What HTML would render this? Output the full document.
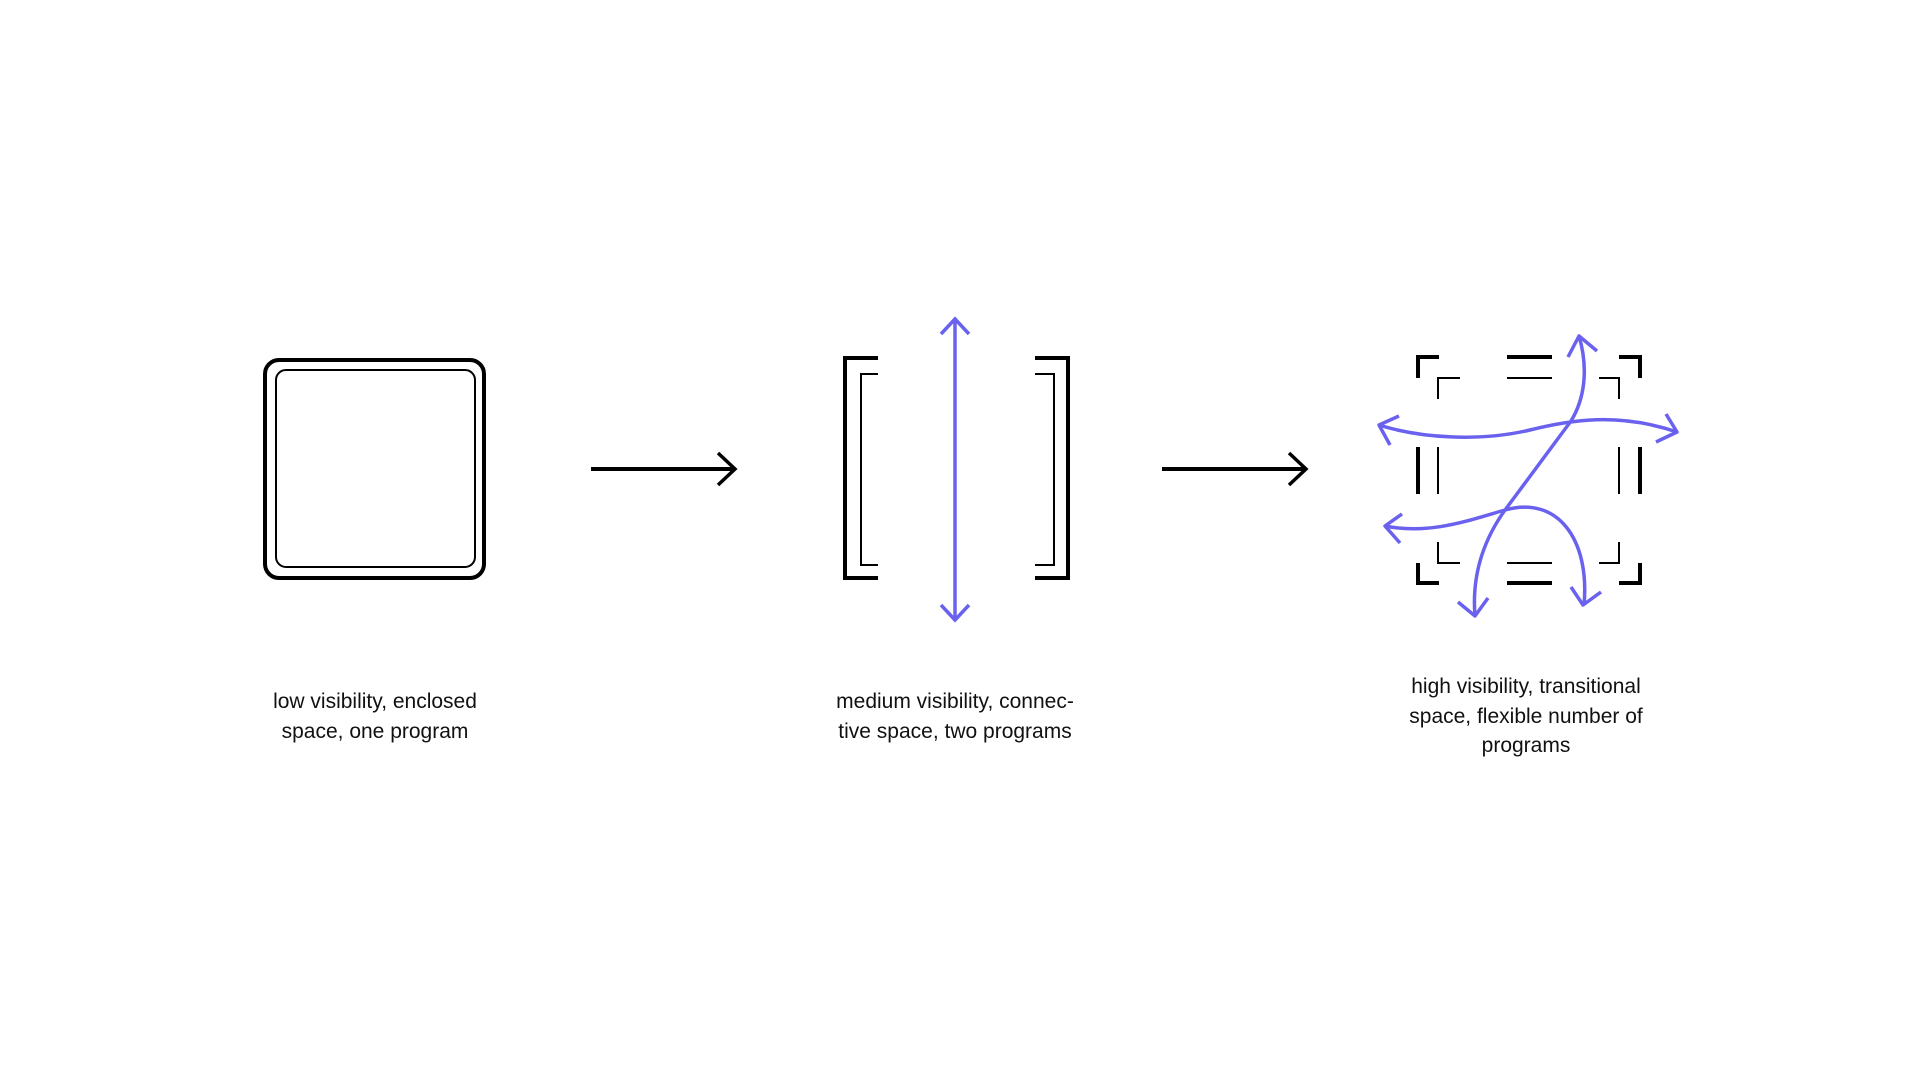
<!DOCTYPE html>
<html><head><meta charset="utf-8"><style>
html,body{margin:0;padding:0;background:#fff;}
.wrap{position:relative;width:1920px;height:1080px;overflow:hidden;}
.lbl{position:absolute;width:360px;text-align:center;font-family:"Liberation Sans",sans-serif;font-size:21px;line-height:29.5px;color:#111;}
</style></head><body><div class="wrap">
<svg width="1920" height="1080" style="position:absolute;left:0;top:0" fill="none" stroke-linecap="butt">
<rect x="265" y="360" width="219" height="218" rx="14" stroke="#000" stroke-width="4"/>
<rect x="276" y="370" width="199" height="197" rx="10" stroke="#000" stroke-width="2"/>
<g stroke="#000" stroke-width="4">
<line x1="591" y1="469" x2="734" y2="469"/><polyline points="718,453 735,469 718,485" stroke-width="3.5"/>
<line x1="1162" y1="469" x2="1305" y2="469"/><polyline points="1289,453 1306,469 1289,485" stroke-width="3.5"/>
</g>
<polyline points="878,358 845,358 845,578 878,578" stroke="#000" stroke-width="4"/>
<polyline points="878,374 861,374 861,565 878,565" stroke="#000" stroke-width="2"/>
<polyline points="1035,358 1068,358 1068,578 1035,578" stroke="#000" stroke-width="4"/>
<polyline points="1035,374 1054,374 1054,565 1035,565" stroke="#000" stroke-width="2"/>
<g stroke="#6a62ee" stroke-width="3.5">
<line x1="955" y1="319" x2="955" y2="620"/>
<polyline points="941,334 955,319 969,334"/>
<polyline points="941,605 955,620 969,605"/>
</g>
<g stroke="#000" stroke-width="4">
<polyline points="1439,357 1418,357 1418,378"/>
<polyline points="1619,357 1640,357 1640,378"/>
<polyline points="1418,563 1418,583 1439,583"/>
<polyline points="1640,563 1640,583 1619,583"/>
<line x1="1507" y1="357" x2="1552" y2="357"/>
<line x1="1507" y1="583" x2="1552" y2="583"/>
<line x1="1418" y1="447" x2="1418" y2="494"/>
<line x1="1640" y1="447" x2="1640" y2="494"/>
</g>
<g stroke="#000" stroke-width="2">
<polyline points="1460,378 1438,378 1438,399"/>
<polyline points="1599,378 1619,378 1619,399"/>
<polyline points="1438,542 1438,563 1460,563"/>
<polyline points="1619,542 1619,563 1599,563"/>
<line x1="1507" y1="378" x2="1552" y2="378"/>
<line x1="1507" y1="563" x2="1552" y2="563"/>
<line x1="1438" y1="447" x2="1438" y2="494"/>
<line x1="1619" y1="447" x2="1619" y2="494"/>
</g>
<g stroke="#6a62ee" stroke-width="3.5" stroke-linejoin="round">
<path d="M1379,425 C1420,438 1480,442 1530,430 C1570,420 1618,412 1677,432"/>
<path d="M1579,336 C1589,370 1584,400 1571,421 L1505,510 C1480,545 1472,580 1475,616"/>
<path d="M1385,526 C1430,535 1470,520 1505,510"/>
<path d="M1505,510 C1558,495 1590,540 1584,605"/>
<polyline points="1399,416 1379,425 1390,445"/>
<polyline points="1666,414 1677,432 1656,442"/>
<polyline points="1568,357 1579,336 1597,351"/>
<polyline points="1402,514 1385,526 1400,543"/>
<polyline points="1458,602 1475,616 1488,598"/>
<polyline points="1571,587 1583,605 1601,592"/>
</g>
</svg>
<div class="lbl" style="left:195px;top:687px">low visibility, enclosed<br>space, one program</div>
<div class="lbl" style="left:775px;top:687px">medium visibility, connec-<br>tive space, two programs</div>
<div class="lbl" style="left:1346px;top:672px">high visibility, transitional<br>space, flexible number of<br>programs</div>
</div></body></html>
